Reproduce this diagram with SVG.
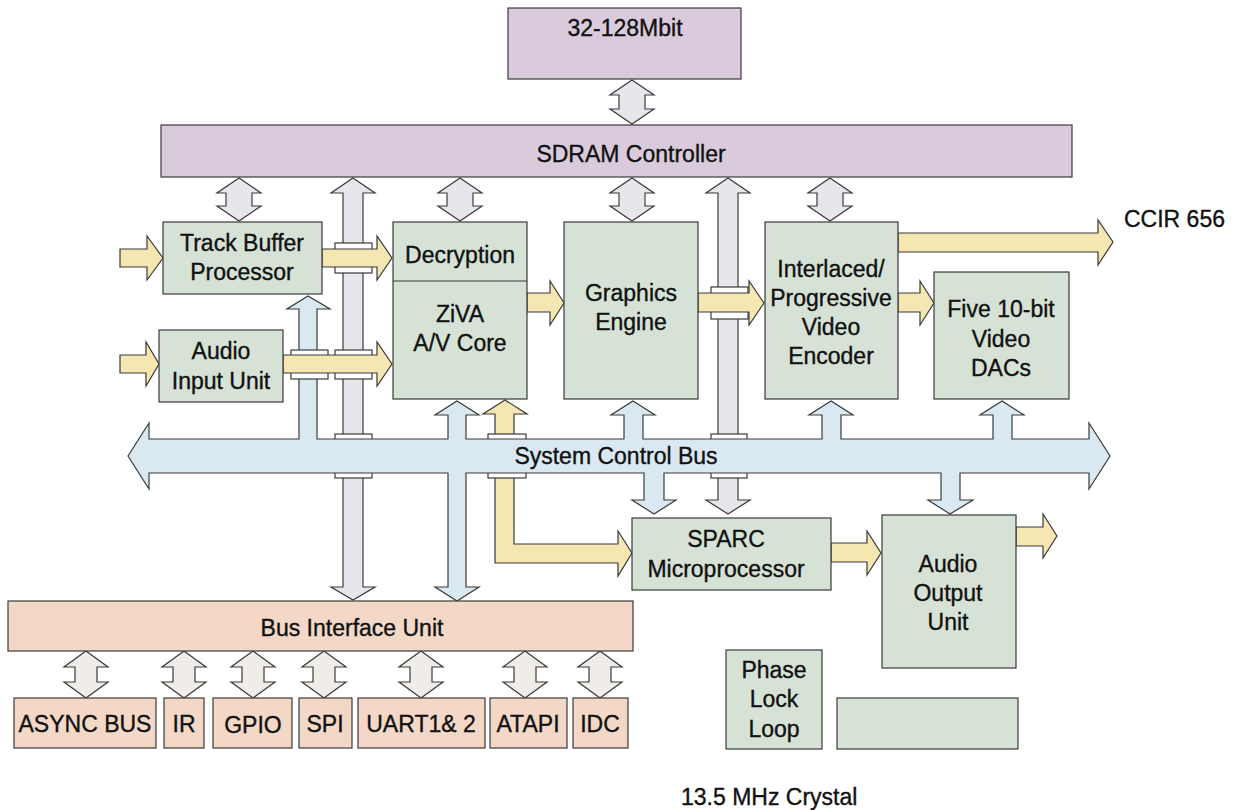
<svg xmlns="http://www.w3.org/2000/svg" width="1243" height="810" viewBox="0 0 1243 810">
<style>
text{font-family:"Liberation Sans",Arial,Helvetica,sans-serif;font-size:23px;fill:#111;stroke:#111;stroke-width:0.35;text-anchor:middle}
.lav{fill:#d9cbdc;stroke:#3a3a3a;stroke-width:1.2}
.grn{fill:#d5e2d5;stroke:#3a3a3a;stroke-width:1.2}
.sal{fill:#f3d8c8;stroke:#3a3a3a;stroke-width:1.2}
.gry{fill:#e8e5ec;stroke:#3a3a3a;stroke-width:1.2;stroke-linejoin:miter}
.bge{fill:#f0ece8;stroke:#3a3a3a;stroke-width:1.2}
.yel{fill:#f5e6b2;stroke:#3a3a3a;stroke-width:1.2}
.blu{fill:#d9e8f1;stroke:#3a3a3a;stroke-width:1.2}
.brg{fill:#ffffff;stroke:#3a3a3a;stroke-width:1.2}
</style>
<rect width="1243" height="810" fill="#ffffff"/>
<g id="connectors">
  <!-- memory double arrow -->
  <path class="gry" d="M632,80 L654,95 L645,95 L645,109 L654,109 L632,124 L610,109 L619,109 L619,95 L610,95 Z"/>
  <!-- SDRAM to blocks -->
  <path class="gry" d="M239,178 L261,193 L252,193 L252,206 L261,206 L239,221 L217,206 L226,206 L226,193 L217,193 Z"/>
  <path class="gry" d="M460,178 L482,193 L473,193 L473,206 L482,206 L460,221 L438,206 L447,206 L447,193 L438,193 Z"/>
  <path class="gry" d="M632,178 L654,193 L645,193 L645,206 L654,206 L632,221 L610,206 L619,206 L619,193 L610,193 Z"/>
  <path class="gry" d="M830,178 L852,193 L843,193 L843,206 L852,206 L830,221 L808,206 L817,206 L817,193 L808,193 Z"/>
  <!-- tall gray buses -->
  <path class="gry" d="M353,178 L375,193 L363,193 L363,587 L375,587 L353,600 L331,587 L343,587 L343,193 L331,193 Z"/>
  <path class="gry" d="M728,178 L750,193 L738,193 L738,500 L750,500 L728,514 L706,500 L718,500 L718,193 L706,193 Z"/>
  <!-- yellow L arrow (under bus) -->
  <path class="yel" d="M505,400 L527,414 L514,414 L514,544 L618,544 L618,531 L632,553 L618,576 L618,563 L495,563 L495,414 L483,414 Z"/>
  <!-- bridges under the system bus -->
  <rect class="brg" x="335" y="434" width="37" height="44"/>
  <rect class="brg" x="488" y="434" width="38" height="44"/>
  <rect class="brg" x="711" y="434" width="36" height="44"/>
  <!-- system control bus -->
  <path class="blu" d="M128,456 L149,423 L149,439 L299,439 L299,309 L287,309 L308,296 L330,309 L317,309 L317,439 L448,439 L448,415 L435,415 L457,401 L479,415 L466,415 L466,439 L624,439 L624,415 L611,415 L633,401 L655,415 L643,415 L643,439 L822,439 L822,415 L809,415 L831,401 L853,415 L841,415 L841,439 L993,439 L993,415 L980,415 L1002,401 L1024,415 L1012,415 L1012,439 L1089,439 L1089,423 L1110,456 L1089,489 L1089,473 L960,473 L960,500 L973,500 L950,514 L928,500 L941,500 L941,473 L664,473 L664,500 L676,500 L654,514 L632,500 L644,500 L644,473 L466,473 L466,587 L479,587 L457,601 L435,587 L448,587 L448,473 L149,473 L149,489 Z"/>
  <!-- bridges over verticals -->
  <rect class="brg" x="335" y="243" width="37" height="30"/>
  <rect class="brg" x="291" y="350" width="37" height="29"/>
  <rect class="brg" x="335" y="350" width="37" height="29"/>
  <rect class="brg" x="711" y="287" width="37" height="32"/>
  <!-- yellow data arrows -->
  <path class="yel" d="M120,249 L147,249 L147,236 L163,258 L147,280 L147,267 L120,267 Z"/>
  <path class="yel" d="M120,355 L146,355 L146,342 L159,364 L146,386 L146,373 L120,373 Z"/>
  <path class="yel" d="M322,249 L377,249 L377,236 L392,258 L377,280 L377,267 L322,267 Z"/>
  <path class="yel" d="M283,355 L377,355 L377,342 L392,364 L377,386 L377,373 L283,373 Z"/>
  <path class="yel" d="M527,293 L550,293 L550,281 L564,303 L550,325 L550,312 L527,312 Z"/>
  <path class="yel" d="M698,293 L749,293 L749,281 L764,303 L749,325 L749,312 L698,312 Z"/>
  <path class="yel" d="M898,293 L920,293 L920,281 L934,303 L920,325 L920,312 L898,312 Z"/>
  <path class="yel" d="M898,233 L1098,233 L1098,220 L1113,242 L1098,265 L1098,252 L898,252 Z"/>
  <path class="yel" d="M831,543 L867,543 L867,531 L881,553 L867,575 L867,562 L831,562 Z"/>
  <path class="yel" d="M1016,527 L1043,527 L1043,514 L1057,536 L1043,558 L1043,546 L1016,546 Z"/>
  <!-- BIU to peripherals -->
  <path class="bge" d="M86,651 L108,667 L97,667 L97,682 L108,682 L86,698 L64,682 L75,682 L75,667 L64,667 Z"/>
  <path class="bge" d="M184,651 L206,667 L195,667 L195,682 L206,682 L184,698 L162,682 L173,682 L173,667 L162,667 Z"/>
  <path class="bge" d="M253,651 L275,667 L264,667 L264,682 L275,682 L253,698 L231,682 L242,682 L242,667 L231,667 Z"/>
  <path class="bge" d="M324,651 L346,667 L335,667 L335,682 L346,682 L324,698 L302,682 L313,682 L313,667 L302,667 Z"/>
  <path class="bge" d="M421,651 L443,667 L432,667 L432,682 L443,682 L421,698 L399,682 L410,682 L410,667 L399,667 Z"/>
  <path class="bge" d="M525,651 L547,667 L536,667 L536,682 L547,682 L525,698 L503,682 L514,682 L514,667 L503,667 Z"/>
  <path class="bge" d="M600,651 L622,667 L611,667 L611,682 L622,682 L600,698 L578,682 L589,682 L589,667 L578,667 Z"/>
  <text x="616" y="464">System Control Bus</text>
  <text x="1124" y="227" style="text-anchor:start">CCIR 656</text>
</g>
<g id="mem"><rect class="lav" x="508" y="8" width="233" height="71"/><text x="625" y="36">32-128Mbit</text></g>
<g id="sdram"><rect class="lav" x="161" y="125" width="911" height="52"/><text x="631" y="162">SDRAM Controller</text></g>
<g id="tbp"><rect class="grn" x="163" y="222" width="159" height="72"/><text x="242" y="251">Track Buffer</text><text x="242" y="280">Processor</text></g>
<g id="aiu"><rect class="grn" x="159" y="330" width="124" height="72"/><text x="221" y="359">Audio</text><text x="221" y="389">Input Unit</text></g>
<g id="ziva"><rect class="grn" x="393" y="222" width="134" height="177"/><line x1="393" y1="281" x2="527" y2="281" stroke="#3a3a3a" stroke-width="1.2"/><text x="460" y="263">Decryption</text><text x="460" y="322">ZiVA</text><text x="460" y="351">A/V Core</text></g>
<g id="graphics"><rect class="grn" x="564" y="222" width="134" height="177"/><text x="631" y="301">Graphics</text><text x="631" y="330">Engine</text></g>
<g id="encoder"><rect class="grn" x="765" y="222" width="133" height="177"/><text x="831" y="277">Interlaced/</text><text x="831" y="306">Progressive</text><text x="831" y="335">Video</text><text x="831" y="364">Encoder</text></g>
<g id="dacs"><rect class="grn" x="934" y="272" width="135" height="127"/><text x="1001" y="317">Five 10-bit</text><text x="1001" y="347">Video</text><text x="1001" y="376">DACs</text></g>
<g id="sparc"><rect class="grn" x="632" y="518" width="199" height="72"/><text x="726" y="547">SPARC</text><text x="726" y="577">Microprocessor</text></g>
<g id="audioout"><rect class="grn" x="882" y="515" width="134" height="153"/><text x="948" y="572">Audio</text><text x="948" y="601">Output</text><text x="948" y="630">Unit</text></g>
<g id="biu"><rect class="sal" x="8" y="601" width="625" height="50"/><text x="352" y="636">Bus Interface Unit</text></g>
<g id="async"><rect class="sal" x="14" y="698" width="142" height="50"/><text x="85" y="732">ASYNC BUS</text></g>
<g id="ir"><rect class="sal" x="164" y="698" width="40" height="50"/><text x="184" y="732">IR</text></g>
<g id="gpio"><rect class="sal" x="213" y="698" width="79" height="50"/><text x="253" y="733">GPIO</text></g>
<g id="spi"><rect class="sal" x="299" y="698" width="53" height="50"/><text x="325" y="732">SPI</text></g>
<g id="uart"><rect class="sal" x="358" y="698" width="127" height="50"/><text x="421" y="732">UART1&amp; 2</text></g>
<g id="atapi"><rect class="sal" x="490" y="698" width="77" height="50"/><text x="528" y="732">ATAPI</text></g>
<g id="idc"><rect class="sal" x="573" y="698" width="55" height="50"/><text x="600" y="732">IDC</text></g>
<g id="pll"><rect class="grn" x="726" y="650" width="96" height="99"/><text x="774" y="678">Phase</text><text x="774" y="707">Lock</text><text x="774" y="737">Loop</text></g>
<g id="blank"><rect class="grn" x="837" y="698" width="181" height="51"/></g>
<g id="crystal"><text x="681" y="805" style="text-anchor:start">13.5 MHz Crystal</text></g>
</svg>
